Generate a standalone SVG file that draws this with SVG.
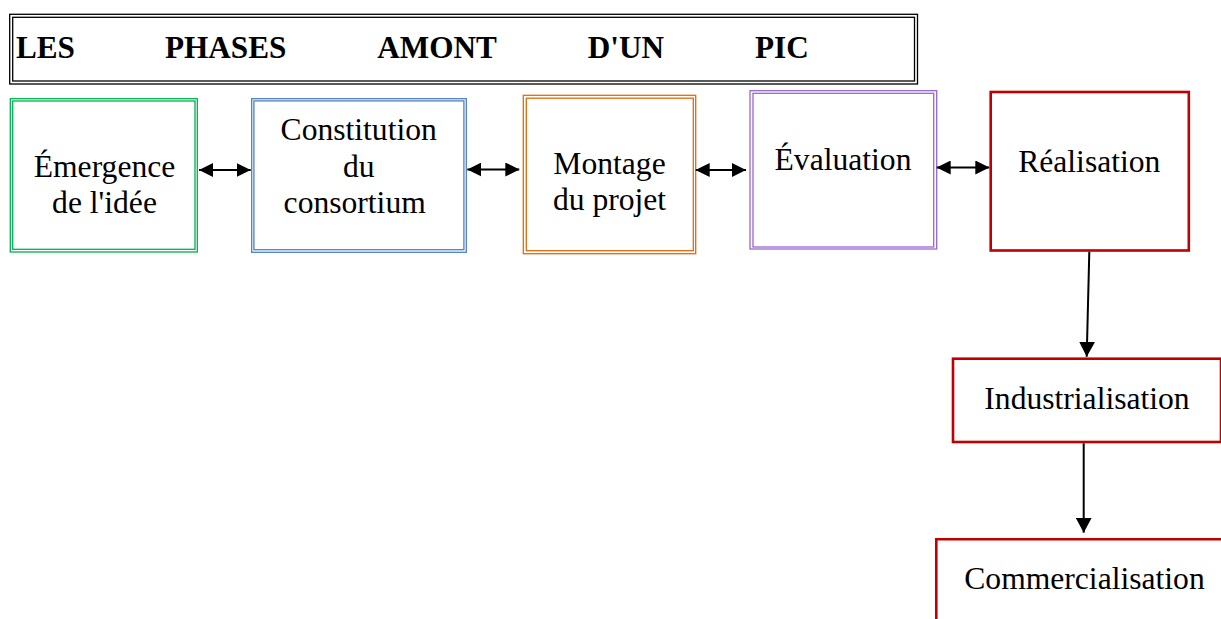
<svg xmlns="http://www.w3.org/2000/svg" width="1221" height="619" viewBox="0 0 1221 619">
<style>
text{font-family:"Liberation Serif","Times New Roman",serif;font-size:31.6px;fill:#000}
.t{font-weight:bold;font-size:31.2px}
.m{text-anchor:middle}
rect{fill:none}
.dbl{stroke-width:1.3}
.red{stroke:#C00000;stroke-width:2.6;fill:none}
.c{stroke:#000;stroke-width:2;fill:none}
</style>
<defs>
<marker id="ah" viewBox="0 0 14 14" refX="14" refY="7" markerWidth="14" markerHeight="14" markerUnits="userSpaceOnUse" orient="auto-start-reverse">
<path d="M0,0 L14,7 L0,14 Z" fill="#000"/>
</marker>
<marker id="av" viewBox="0 0 15 16" refX="15" refY="8" markerWidth="15" markerHeight="16" markerUnits="userSpaceOnUse" orient="auto">
<path d="M0,0 L15,8 L0,16 Z" fill="#000"/>
</marker>
</defs>
<rect width="1221" height="619" fill="#fff"/>
<g id="title">
<rect class="dbl" x="9.7" y="14.3" width="907.8" height="69.7" stroke="#000"/>
<rect class="dbl" x="12.7" y="17.3" width="901.8" height="63.7" stroke="#000"/>
<text class="t" x="16" y="57.5">LES</text>
<text class="t" x="165" y="57.5">PHASES</text>
<text class="t" x="377.3" y="57.5">AMONT</text>
<text class="t" x="587.7" y="57.5">D'UN</text>
<text class="t" x="755" y="57.5">PIC</text>
</g>
<g id="emergence">
<rect class="dbl" x="10.3" y="98.7" width="187" height="153.3" stroke="#00B050"/>
<rect class="dbl" x="12.7" y="101" width="182.3" height="148.3" stroke="#00B050"/>
<text class="m" x="104.5" y="177.3">Émergence</text>
<text class="m" x="104.5" y="213.3">de l'idée</text>
</g>
<g id="constitution">
<rect class="dbl" x="251.7" y="98.7" width="214.6" height="153.6" stroke="#4F81BD"/>
<rect class="dbl" x="253.9" y="100.9" width="210" height="148.8" stroke="#4F81BD"/>
<text class="m" x="358.7" y="140.3">Constitution</text>
<text class="m" x="358.7" y="177.3">du</text>
<text class="m" x="354.7" y="213.3">consortium</text>
</g>
<g id="montage">
<rect class="dbl" x="523.3" y="95.3" width="172.4" height="158.4" stroke="#E36C09"/>
<rect class="dbl" x="526.3" y="98.2" width="167" height="152.5" stroke="#E36C09"/>
<text class="m" x="609.5" y="174.3">Montage</text>
<text class="m" x="609.5" y="210.3">du projet</text>
</g>
<g id="evaluation">
<rect class="dbl" x="750" y="90.7" width="186.7" height="158.3" stroke="#9966CC"/>
<rect class="dbl" x="753" y="93.3" width="180.7" height="153.7" stroke="#9966CC"/>
<text class="m" x="843" y="170">Évaluation</text>
</g>
<g id="realisation">
<rect class="red" x="990.7" y="92" width="198.1" height="158.5"/>
<text class="m" x="1089.3" y="172.3">Réalisation</text>
</g>
<g id="industrialisation">
<rect class="red" x="953" y="358.7" width="268" height="83.3"/>
<text class="m" x="1087" y="409.3">Industrialisation</text>
</g>
<g id="commercialisation">
<path class="red" d="M936.3,622 V539.3 H1224"/>
<text class="m" x="1084.5" y="589.3">Commercialisation</text>
</g>
<g id="connectors">
<line class="c" x1="199" y1="170" x2="250.7" y2="170" marker-start="url(#ah)" marker-end="url(#ah)"/>
<line class="c" x1="467.3" y1="169.5" x2="519.3" y2="169.5" marker-start="url(#ah)" marker-end="url(#ah)"/>
<line class="c" x1="695.7" y1="170" x2="746" y2="170" marker-start="url(#ah)" marker-end="url(#ah)"/>
<line class="c" x1="936.7" y1="167.5" x2="989.3" y2="167.5" marker-start="url(#ah)" marker-end="url(#ah)"/>
<line class="c" x1="1089.3" y1="251.7" x2="1086.7" y2="356.7" marker-end="url(#av)"/>
<line class="c" x1="1083.7" y1="443.3" x2="1083.7" y2="532.7" marker-end="url(#av)"/>
</g>
</svg>
